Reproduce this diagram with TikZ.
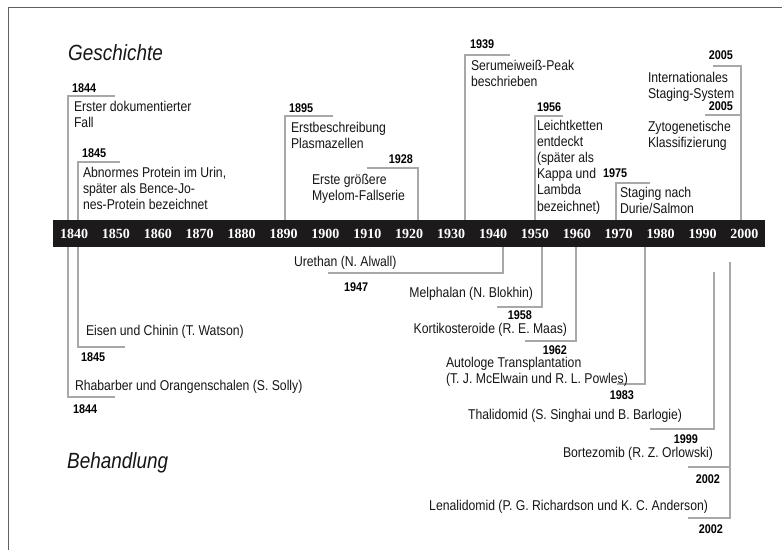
\documentclass[tikz,border=0pt]{standalone}
\usepackage{fontspec}
\setmainfont{Liberation Sans}[FakeStretch=0.86]
\newfontfamily\barfont{Liberation Serif}
\definecolor{txt}{HTML}{161616}
\definecolor{linec}{HTML}{A8A8A8}
\definecolor{framec}{HTML}{606060}
\definecolor{barc}{HTML}{1C1A1A}
\tikzset{
  evt/.style={anchor=base west, inner sep=0pt, outer sep=0pt, text=txt, align=left,
    font=\fontsize{14.2}{16.2}\selectfont},
  evtr/.style={evt, anchor=base east},
  yr/.style={anchor=base west, inner sep=0pt, outer sep=0pt, text=black,
    font=\bfseries\fontsize{12.6}{14}\selectfont},
  yrr/.style={yr, anchor=base east},
  brk/.style={draw=linec, line width=1.4pt},
  ttl/.style={anchor=base west, inner sep=0pt, text=txt, font=\itshape\fontsize{22}{26}\selectfont},
  barlab/.style={anchor=base, inner sep=0pt, text=white, font=\barfont\bfseries\fontsize{14}{16}\selectfont},
}
\begin{document}
\begin{tikzpicture}[x=1pt,y=-1pt]
\useasboundingbox (0,0) rectangle (782,550);
\fill[white] (0,0) rectangle (782,550);
% frame
\draw[framec, line width=0.9pt] (8,550) -- (8,7) -- (782,7);

% titles
\node[ttl] (geschichte) at (68,60) {Geschichte};
\node[ttl] (behandlung) at (67,468) {Behandlung};

% brackets above
\draw[brk] (115,96) -- (68,96) -- (68,220);
\draw[brk] (120,162) -- (78,162) -- (78,220);
\draw[brk] (333,116) -- (285,116) -- (285,220);
\draw[brk] (367,168) -- (418,168) -- (418,220);
\draw[brk] (510,55) -- (465,55) -- (465,220);
\draw[brk] (563,116) -- (535,116) -- (535,220);
\draw[brk] (650,183) -- (616,183) -- (616,220);
\draw[brk] (713,66) -- (741,66) -- (741,220);
\draw[brk] (705,115) -- (741,115);

% brackets below
\draw[brk] (68,247) -- (68,397) -- (115,397);
\draw[brk] (78,247) -- (78,347) -- (125,347);
\draw[brk] (503,247) -- (503,273) -- (328,273);
\draw[brk] (542,247) -- (542,307) -- (497,307);
\draw[brk] (576,247) -- (576,341) -- (525,341);
\draw[brk] (645,247) -- (645,384) -- (617,384);
\draw[brk] (714,272) -- (714,429) -- (650,429);
\draw[brk] (730,262) -- (730,518) -- (688,518);
\draw[brk] (730,467) -- (688,467);

% timeline bar
\fill[barc] (53,220) rectangle (765,247);
\foreach \y [count=\i from 0] in {1840,1850,1860,1870,1880,1890,1900,1910,1920,1930,1940,1950,1960,1970,1980,1990,2000}
  \node[barlab] (bar\y) at ({74+41.9*\i},238) {\y};

% events above (Geschichte) -- multi-line nodes placed at last-line baseline
\node[yr] (y1844a) at (72,92) {1844};
\node[evt] (e1844a) at (74,127.2) {Erster dokumentierter\\Fall};
\node[yr] (y1845a) at (82,157) {1845};
\node[evt] (e1845a) at (83,209.4) {Abnormes Protein im Urin,\\später als Bence-Jo-\\nes-Protein bezeichnet};
\node[yr] (y1895) at (289,112) {1895};
\node[evt] (e1895) at (291,148.2) {Erstbeschreibung\\Plasmazellen};
\node[yrr] (y1928) at (413,163) {1928};
\node[evt] (e1928) at (312,200.2) {Erste größere\\Myelom-Fallserie};
\node[yr] (y1939) at (470,48) {1939};
\node[evt] (e1939) at (471,86.2) {Serumeiweiß-Peak\\beschrieben};
\node[yr] (y1956) at (537,111) {1956};
\node[evt] (e1956) at (537,211) {Leichtketten\\entdeckt\\(später als\\Kappa und\\Lambda\\bezeichnet)};
\node[yr] (y1975) at (603,177) {1975};
\node[evt] (e1975) at (620,213.2) {Staging nach\\Durie/Salmon};
\node[yrr] (y2005a) at (733,59) {2005};
\node[evt] (e2005a) at (648,98.2) {Internationales\\Staging-System};
\node[yrr] (y2005b) at (733,110) {2005};
\node[evt] (e2005b) at (648,147.2) {Zytogenetische\\Klassifizierung};

% events below (Behandlung)
\node[evt] (t1844) at (75,390) {Rhabarber und Orangenschalen (S. Solly)};
\node[yr] (z1844) at (73,413) {1844};
\node[evt] (t1845) at (86,335) {Eisen und Chinin (T. Watson)};
\node[yr] (z1845) at (81,361) {1845};
\node[evt] (t1947) at (294,266) {Urethan (N. Alwall)};
\node[yr] (z1947) at (344,291) {1947};
\node[evtr] (t1958) at (533,297) {Melphalan (N. Blokhin)};
\node[yrr] (z1958) at (532,319) {1958};
\node[evtr] (t1962) at (567,333) {Kortikosteroide (R. E. Maas)};
\node[yrr] (z1962) at (567,354) {1962};
\node[evt] (t1983) at (446,383.2) {Autologe Transplantation\\(T. J. McElwain und R. L. Powles)};
\node[yrr] (z1983) at (634,399) {1983};
\node[evtr] (t1999) at (682,419) {Thalidomid (S. Singhai und B. Barlogie)};
\node[yrr] (z1999) at (698,443) {1999};
\node[evtr] (t2002a) at (713,457) {Bortezomib (R. Z. Orlowski)};
\node[yrr] (z2002a) at (720,483) {2002};
\node[evtr] (t2002b) at (708,510) {Lenalidomid (P. G. Richardson und K. C. Anderson)};
\node[yrr] (z2002b) at (723,533) {2002};
\end{tikzpicture}
\end{document}
